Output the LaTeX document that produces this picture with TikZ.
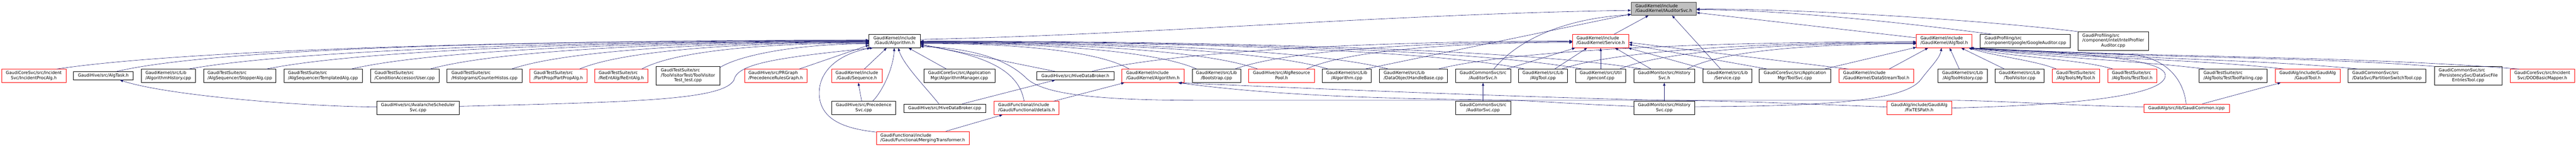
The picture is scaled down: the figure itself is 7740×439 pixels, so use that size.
\documentclass[tikz,border=0pt]{standalone}
\usepackage{fontspec}
\setmainfont{DejaVu Sans}
\usetikzlibrary{arrows.meta}
\definecolor{edgeblue}{RGB}{25,25,112}
\definecolor{rootfill}{RGB}{191,191,191}
\definecolor{rootdraw}{RGB}{64,64,64}
\newcommand\labii[2]{\begin{tabular}{@{}l@{}}#1\\\multicolumn{1}{@{}c@{}}{#2}\end{tabular}}
\newcommand\labiii[3]{\begin{tabular}{@{}l@{}}#1\\#2\\\multicolumn{1}{@{}c@{}}{#3}\end{tabular}}
\begin{document}
\begin{tikzpicture}[x=1pt,y=-1pt,
  font=\fontsize{12.7}{14.3}\selectfont,
  nb/.style={draw=black, line width=1pt, inner sep=0pt, minimum height=40pt, fill=white},
  nr/.style={nb, draw=red},
  e/.style={draw=edgeblue, line width=0.9pt, -{Triangle[length=9pt,width=7pt]}}]
\useasboundingbox (0,0) rectangle (7740,439);
% row 1
\node[nb, draw=rootdraw, fill=rootfill, minimum width=196pt] (IA) at (4999,26) {\labii{GaudiKernel/include}{/GaudiKernel/IAuditorSvc.h}};
% row 2
\node[nb, minimum width=154pt] (GA) at (2688,123) {\labii{GaudiKernel/include}{/Gaudi/Algorithm.h}};
\node[nr, minimum width=169pt] (SV) at (4809.5,123) {\labii{GaudiKernel/include}{/GaudiKernel/Service.h}};
\node[nr, minimum width=167pt] (AT) at (5841.5,123) {\labii{GaudiKernel/include}{/GaudiKernel/AlgTool.h}};
\node[nb, minimum width=271pt] (GOOG) at (6085.5,123) {\labii{GaudiProfiling/src}{/component/google/GoogleAuditor.cpp}};
\node[nb, minimum width=211pt, minimum height=55pt] (INTEL) at (6349.5,122.5) {\labiii{GaudiProfiling/src}{/component/intel/IntelProfiler}{Auditor.cpp}};
% row 3
\node[nr, minimum width=193pt] (IPA) at (101.5,227) {\labii{GaudiCoreSvc/src/Incident}{Svc/IncidentProcAlg.h}};
\node[nb, minimum width=179pt, minimum height=25pt] (ATASK) at (310.5,226.5) {GaudiHive/src/AlgTask.h};
\node[nb, minimum width=163pt] (AHIST) at (505.5,227) {\labii{GaudiKernel/src/Lib}{/AlgorithmHistory.cpp}};
\node[nb, minimum width=217pt] (STOP) at (720.5,227) {\labii{GaudiTestSuite/src}{/AlgSequencer/StopperAlg.cpp}};
\node[nb, minimum width=235pt] (TEMPL) at (970.5,227) {\labii{GaudiTestSuite/src}{/AlgSequencer/TemplatedAlg.cpp}};
\node[nb, minimum width=206pt] (USER) at (1216,227) {\labii{GaudiTestSuite/src}{/ConditionAccessor/User.cpp}};
\node[nb, minimum width=225pt] (CH) at (1455.5,227) {\labii{GaudiTestSuite/src}{/Histograms/CounterHistos.cpp}};
\node[nr, minimum width=171pt] (PPA) at (1677.5,227) {\labii{GaudiTestSuite/src}{/PartProp/PartPropAlg.h}};
\node[nr, minimum width=159pt] (REA) at (1866.5,227) {\labii{GaudiTestSuite/src}{/ReEntAlg/ReEntAlg.h}};
\node[nb, minimum width=192pt, minimum height=55pt] (TVT) at (2067,226.5) {\labiii{GaudiTestSuite/src}{/ToolVisitorTest/ToolVisitor}{Test\_test.cpp}};
\node[nr, minimum width=187pt] (PRG) at (2330.5,227) {\labii{GaudiHive/src/PRGraph}{/PrecedenceRulesGraph.h}};
\node[nr, minimum width=151pt] (SEQ) at (2574.5,227) {\labii{GaudiKernel/include}{/Gaudi/Sequence.h}};
\node[nb, minimum width=213pt] (AMGR) at (2882.5,227) {\labii{GaudiCoreSvc/src/Application}{Mgr/AlgorithmManager.cpp}};
\node[nb, minimum width=232pt, minimum height=25pt] (HDBH) at (3231,226.5) {GaudiHive/src/HiveDataBroker.h};
\node[nr, minimum width=186pt] (GKA) at (3464,227) {\labii{GaudiKernel/include}{/GaudiKernel/Algorithm.h}};
\node[nb, minimum width=146pt] (BOOT) at (3655,227) {\labii{GaudiKernel/src/Lib}{/Bootstrap.cpp}};
\node[nr, minimum width=197pt] (ARP) at (3850.5,227) {\labii{GaudiHive/src/AlgResource}{Pool.h}};
\node[nb, minimum width=147pt] (ALGCPP) at (4046.5,227) {\labii{GaudiKernel/src/Lib}{/Algorithm.cpp}};
\node[nb, minimum width=204pt] (DOHB) at (4247,227) {\labii{GaudiKernel/src/Lib}{/DataObjectHandleBase.cpp}};
\node[nb, minimum width=166pt] (AUDH) at (4456,227) {\labii{GaudiCommonSvc/src}{/AuditorSvc.h}};
\node[nb, minimum width=146pt] (ATCPP) at (4636,227) {\labii{GaudiKernel/src/Lib}{/AlgTool.cpp}};
\node[nb, minimum width=151pt] (GENC) at (4809.5,227) {\labii{GaudiKernel/src/Util}{/genconf.cpp}};
\node[nb, minimum width=183pt] (HSH) at (5000.5,227) {\labii{GaudiMonitor/src/History}{Svc.h}};
\node[nb, minimum width=146pt] (SVCPP) at (5190,227) {\labii{GaudiKernel/src/Lib}{/Service.cpp}};
\node[nb, minimum width=214pt] (TSVC) at (5393,227) {\labii{GaudiCoreSvc/src/Application}{Mgr/ToolSvc.cpp}};
\node[nr, minimum width=225pt] (DST) at (5637.5,227) {\labii{GaudiKernel/include}{/GaudiKernel/DataStreamTool.h}};
\node[nb, minimum width=148pt] (ATH) at (5897,227) {\labii{GaudiKernel/src/Lib}{/AlgToolHistory.cpp}};
\node[nb, minimum width=148pt] (TV) at (6068,227) {\labii{GaudiKernel/src/Lib}{/ToolVisitor.cpp}};
\node[nr, minimum width=143pt] (MYT) at (6237.5,227) {\labii{GaudiTestSuite/src}{/AlgTools/MyTool.h}};
\node[nr, minimum width=147pt] (TT) at (6406.5,227) {\labii{GaudiTestSuite/src}{/AlgTools/TestTool.h}};
\node[nb, minimum width=205pt] (TTF) at (6709.5,227) {\labii{GaudiTestSuite/src}{/AlgTools/TestToolFailing.cpp}};
\node[nr, minimum width=195pt] (GT) at (6933.5,227) {\labii{GaudiAlg/include/GaudiAlg}{/GaudiTool.h}};
\node[nb, minimum width=234pt] (PST) at (7172,227) {\labii{GaudiCommonSvc/src}{/DataSvc/PartitionSwitchTool.cpp}};
\node[nb, minimum width=204pt, minimum height=55pt] (DSFE) at (7416,226.5) {\labiii{GaudiCommonSvc/src}{/PersistencySvc/DataSvcFile}{EntriesTool.cpp}};
\node[nr, minimum width=193pt] (DOD) at (7638.5,227) {\labii{GaudiCoreSvc/src/Incident}{Svc/DODBasicMapper.h}};
% row 4
\node[nb, minimum width=248pt] (AVAL) at (1256,323) {\labii{GaudiHive/src/AvalancheScheduler}{Svc.cpp}};
\node[nb, minimum width=192pt] (PSVC) at (2595,323) {\labii{GaudiHive/src/Precedence}{Svc.cpp}};
\node[nb, minimum width=247pt, minimum height=25pt] (HDBC) at (2838.5,323.5) {GaudiHive/src/HiveDataBroker.cpp};
\node[nr, minimum width=195pt] (DET) at (3084.5,323) {\labii{GaudiFunctional/include}{/Gaudi/Functional/details.h}};
\node[nb, minimum width=166pt] (AUDC) at (4456,323) {\labii{GaudiCommonSvc/src}{/AuditorSvc.cpp}};
\node[nb, minimum width=183pt] (HSC) at (5000.5,323) {\labii{GaudiMonitor/src/History}{Svc.cpp}};
\node[nr, minimum width=195pt] (FIX) at (5766.5,323) {\labii{GaudiAlg/include/GaudiAlg}{/FixTESPath.h}};
\node[nr, minimum width=257pt, minimum height=25pt] (GCI) at (6569.5,323.5) {GaudiAlg/src/lib/GaudiCommon.icpp};
% row 5
\node[nr, minimum width=279pt] (MT) at (2772.5,413) {\labii{GaudiFunctional/include}{/Gaudi/Functional/MergingTransformer.h}};

% ---- edges into Gaudi/Algorithm.h from the left
\draw[e] ([xshift=68.5]IPA.north) .. controls +(365,-55) and +(-1096,0) .. ([yshift=3]GA.west);
\draw[e] ([xshift=40.5]ATASK.north) .. controls +(300,-70) and +(-1014,0) .. ([yshift=2]GA.west);
\draw[e] ([xshift=60.5]AHIST.north) .. controls +(306,-55) and +(-918,0) .. ([yshift=1]GA.west);
\draw[e] ([xshift=79.5]STOP.north) .. controls +(271,-55) and +(-812,0) .. (GA.west);
\draw[e] ([xshift=84.5]TEMPL.north) .. controls +(233,-55) and +(-698,0) .. ([yshift=-1]GA.west);
\draw[e] ([xshift=76]USER.north) .. controls +(197,-55) and +(-591,0) .. ([yshift=-2]GA.west);
\draw[e] ([xshift=81.5]CH.north) .. controls +(160,-55) and +(-481,0) .. ([yshift=-3]GA.west);
\draw[e] ([xshift=63.5]PPA.north) .. controls +(130,-55) and +(-389,0) .. ([yshift=-4]GA.west);
\draw[e] ([xshift=61.5]REA.north) .. controls +(102,-55) and +(-305,0) .. ([yshift=-6]GA.west);
\draw[e] ([yshift=-3]TVT.north east) .. controls +(66,-40) and +(-199,0) .. ([yshift=-8]GA.west);
\draw[e] ([xshift=70.5]PRG.north) -- ([yshift=-12]GA.west);
% Avalanche, MergingTransformer
\draw[e] ([yshift=3]AVAL.west) .. controls (900,318) and (500,285) .. ([xshift=50]ATASK.south);
\draw[e] ([yshift=5]AVAL.east) .. controls (1900,305) and (2170,300) .. (2205,240) .. controls (2215,195) and (2300,175) .. ([xshift=12]GA.south west);
\draw[e] ([yshift=18]MT.west) .. controls (2540,385) and (2470,360) .. (2462,290) .. controls (2455,220) and (2510,165) .. ([xshift=4]GA.south west);
\draw[e] ([xshift=69.5]MT.north) -- ([xshift=-72.5]DET.south);
% below Gaudi/Algorithm.h
\draw[e] ([xshift=-6]PSVC.north) -- ([xshift=4.5]SEQ.south);
\draw[e] ([xshift=27]PSVC.north) .. controls +(30,-30) and +(-3,60) .. ([xshift=-1]GA.south);
\draw[e] ([xshift=22.5]SEQ.north) -- ([xshift=-24]GA.south);
\draw[e] ([xshift=-17.5]HDBC.north) .. controls +(-40,-50) and +(15,50) .. ([xshift=11]GA.south);
\draw[e] ([xshift=53.5]HDBC.north) -- ([xshift=-61]HDBH.south);
\draw[e] ([xshift=-38.5]AMGR.north) -- ([xshift=42]GA.south);
\draw[e] ([xshift=-61]HDBH.north) -- ([yshift=-9]GA.east);
\draw[e] ([xshift=-7.5]DET.north) .. controls +(-15,-90) and +(200,30) .. ([yshift=-12]GA.east);
\draw[e] ([xshift=81.5]DET.north) -- ([xshift=-86]GKA.south);
% into Gaudi/Algorithm.h from the right
\draw[e] ([xshift=-71]GKA.north) .. controls +(-93,-55) and +(280,0) .. ([yshift=-7]GA.east);
\draw[e] ([xshift=-59]BOOT.north) .. controls +(-124,-55) and +(372,0) .. ([yshift=-6]GA.east);
\draw[e] ([xshift=-71.5]ARP.north) .. controls +(-151,-55) and +(454,0) .. ([yshift=-5]GA.east);
\draw[e] ([xshift=-55.5]ALGCPP.north) .. controls +(-183,-55) and +(550,0) .. ([yshift=-4]GA.east);
\draw[e] ([xshift=-75]DOHB.north) .. controls +(-210,-55) and +(631,0) .. ([yshift=-3]GA.east);
\draw[e] ([xshift=-54]ATCPP.north) .. controls +(-272,-55) and +(815,0) .. ([yshift=-2]GA.east);
\draw[e] ([xshift=-55.5]GENC.north) .. controls +(-298,-55) and +(893,0) .. ([yshift=-1]GA.east);
\draw[e] ([xshift=-66.5]HSH.north) .. controls +(-325,-55) and +(974,0) .. (GA.east);
\draw[e] ([yshift=4]GCI.west) .. controls (6250,318) and (6000,300) .. (5850,300) -- (3600,300) .. controls (3250,300) and (3130,275) .. (3085,235) .. controls (3040,190) and (2950,145) .. ([yshift=-16]GA.east);
% into IAuditorSvc.h
\draw[e] ([yshift=5]GA.east) .. controls +(700,-15) and +(-700,10) .. ([yshift=-5]IA.west);
\draw[e] ([xshift=54.5]ALGCPP.north) -- ([yshift=-16]IA.west);
\draw[e] ([xshift=32]AUDH.north) .. controls +(72,-87) and +(-201,11) .. ([yshift=-18]IA.west);
\draw[e] ([xshift=40]SV.north) -- ([xshift=-46]IA.south);
\draw[e] ([xshift=-20]SVCPP.north) -- ([xshift=25]IA.south);
\draw[e] ([yshift=10]AT.west) -- ([yshift=-12]IA.east);
\draw[e] ([xshift=-100]GOOG.north) .. controls +(-150,-20) and +(300,0) .. ([yshift=-3]IA.east);
\draw[e] (INTEL.north west) .. controls +(-200,-25) and +(400,0) .. ([yshift=-1]IA.east);
% into Service.h
\draw[e] ([xshift=50]HDBH.north) .. controls +(217,-55) and +(-650,0) .. (SV.west);
\draw[e] ([xshift=55]BOOT.north) .. controls +(152,-55) and +(-457,0) .. ([yshift=-2]SV.west);
\draw[e] ([xshift=74.5]ARP.north) .. controls +(120,-55) and +(-360,0) .. ([yshift=-4]SV.west);
\draw[e] ([xshift=70]AUDH.north) -- ([xshift=8]SV.south west);
\draw[e] ([xshift=35]ATCPP.north) -- ([xshift=-41]SV.south);
\draw[e] (GENC.north) -- (SV.south);
\draw[e] ([xshift=-39.5]HSH.north) -- ([xshift=43.5]SV.south);
\draw[e] ([xshift=5]SVCPP.north west) -- ([xshift=-2]SV.south east);
\draw[e] ([xshift=-82]TSVC.north) -- ([yshift=-10]SV.east);
\draw[e] ([xshift=-83.5]DST.north) -- ([yshift=-4]SV.east);
% into AlgTool.h
\draw[e] ([xshift=74]DOHB.north) .. controls +(216,-55) and +(-647,0) .. ([yshift=-2]AT.west);
\draw[e] ([xshift=56]ATCPP.north) .. controls +(160,-55) and +(-480,0) .. ([yshift=-4]AT.west);
\draw[e] ([xshift=56.5]GENC.north) .. controls +(134,-55) and +(-401,0) .. ([yshift=-6]AT.west);
\draw[e] ([xshift=68.5]HSH.north) .. controls +(103,-55) and +(-310,0) .. ([yshift=-8]AT.west);
\draw[e] ([xshift=88]TSVC.north) -- ([yshift=2]AT.south west);
\draw[e] ([xshift=38.5]DST.north) -- ([xshift=-48.5]AT.south);
\draw[e] ([xshift=-10]ATH.north) -- ([xshift=16.5]AT.south);
\draw[e] ([xshift=-45]TV.north) -- ([xshift=51.5]AT.south);
\draw[e] ([xshift=-58.5]MYT.north) .. controls +(-60,-25) and +(80,25) .. ([xshift=74]AT.south);
\draw[e] ([xshift=-57.5]TT.north) .. controls +(-100,-30) and +(150,30) .. ([xshift=75]AT.south);
\draw[e] ([xshift=-81.5]TTF.north) .. controls +(-200,-25) and +(250,30) .. ([xshift=76]AT.south);
\draw[e] ([xshift=-70.5]GT.north) .. controls +(-250,-30) and +(300,30) .. ([xshift=77]AT.south);
\draw[e] ([xshift=-85]PST.north) .. controls +(-300,-30) and +(400,30) .. ([xshift=78]AT.south);
\draw[e] ([xshift=2]DSFE.north west) .. controls +(-400,-30) and +(500,30) .. ([xshift=79]AT.south);
\draw[e] ([xshift=-69.5]DOD.north) .. controls +(-500,-40) and +(600,30) .. ([xshift=80]AT.south);
% lower rows
\draw[e] (HSC.north) -- (HSH.south);
\draw[e] (AUDC.north) -- (AUDH.south);
\draw[e] ([yshift=5]HSC.west) .. controls (4700,310) and (4600,300) .. (4500,299) .. controls (4000,294) and (3750,275) .. ([xshift=76]GKA.south);
\draw[e] ([yshift=3]FIX.west) .. controls (5400,310) and (5200,301) .. (5000,300) .. controls (4600,291) and (4000,268) .. ([xshift=78]GKA.south);
\draw[e] ([yshift=4]HSC.east) .. controls (5500,318) and (5720,300) .. (5770,240) .. controls (5800,200) and (5828,175) .. ([xshift=-8]AT.south);
\draw[e] (FIX.east) .. controls (6200,315) and (6500,290) .. (6506,227) .. controls (6510,180) and (6300,160) .. ([xshift=76]AT.south);
\draw[e] ([xshift=-1]GCI.north) .. controls (6560,230) and (6500,170) .. (6400,163) .. controls (6200,155) and (6000,150) .. ([xshift=78]AT.south);
\draw[e] ([xshift=48]GCI.north) -- ([xshift=-81]GT.south);
\end{tikzpicture}
\end{document}
